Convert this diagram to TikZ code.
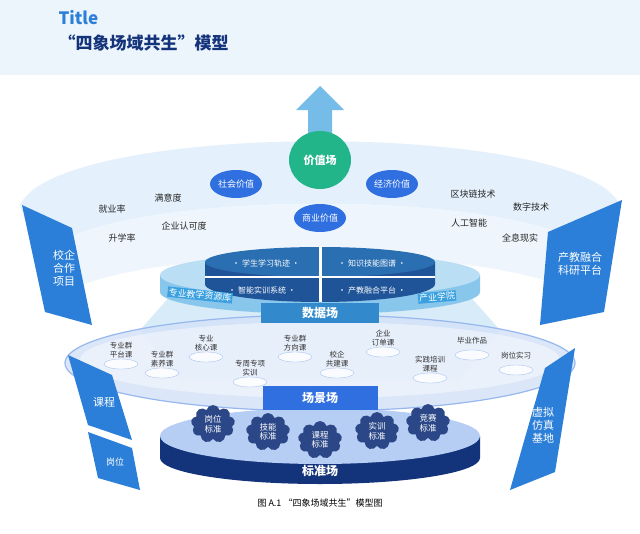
\documentclass[tikz,border=0pt]{standalone}
\usepackage{fontspec}
\setmainfont{Noto Sans CJK SC}
\usetikzlibrary{shapes.geometric,shapes.symbols}
\definecolor{tblue}{HTML}{2B7FD8}
\definecolor{dblue}{HTML}{13337A}
\definecolor{mblue}{HTML}{2F6FE0}
\definecolor{lblue}{HTML}{CFE3F7}
\definecolor{sky}{HTML}{3AA0E0}
\definecolor{vgreen}{HTML}{23B58A}
\tikzset{
  kw/.style={font=\fontsize{9}{10}\selectfont, text=black!85},
  val/.style={ellipse, fill=mblue, text=white, minimum width=52, minimum height=28, inner sep=0, font=\fontsize{9}{10}\selectfont},
  lab/.style={fill=mblue, text=white, font=\bfseries\fontsize{12}{13}\selectfont, minimum height=20, inner sep=2},
  item/.style={font=\fontsize{7.5}{8.5}\selectfont, align=center, text=black!80},
  ring/.style={draw=mblue!50, fill=white, opacity=.8, ellipse, minimum width=34, minimum height=10},
  cloudn/.style={cloud, cloud puffs=9, fill=dblue!90, text=white, minimum width=44, minimum height=38, inner sep=0, align=center, font=\fontsize{8.5}{9.5}\selectfont},
  side/.style={fill=tblue, draw=none},
  sidet/.style={text=white, align=center, font=\fontsize{11}{13}\selectfont},
  dk/.style={text=white, font=\fontsize{8}{9}\selectfont},
}
\begin{document}
\begin{tikzpicture}[x=1pt,y=-1pt]
\useasboundingbox (0,0) rectangle (640,533);
\fill[white] (0,0) rectangle (640,533);
\fill[lblue!40] (0,0) rectangle (640,75);
\node[anchor=west, text=tblue, font=\bfseries\fontsize{17}{18}\selectfont] (title) at (55,18) {Title};
\node[anchor=west, font=\bfseries\fontsize{17}{18}\selectfont, text=dblue] (sub) at (55,43) {“四象场域共生”模型};
% top band
\fill[lblue!55] (20,205) .. controls (60,120) and (580,120) .. (620,205) -- (600,260) .. controls (560,185) and (80,185) .. (40,260) -- cycle;
\fill[lblue!35] (40,260) .. controls (80,185) and (560,185) .. (600,260) -- (590,305) .. controls (540,240) and (100,240) .. (50,305) -- cycle;
% arrow
\fill[sky!70] (308,150) -- (308,110) -- (296,110) -- (320,86) -- (344,110) -- (332,110) -- (332,150) -- cycle;
% side panels top
\fill[side] (22,205) -- (72,228) -- (92,325) -- (45,312) -- cycle;
\node[sidet] (xq) at (64,268) {校企\\合作\\项目};
\fill[side] (622,200) -- (548,232) -- (540,325) -- (604,312) -- cycle;
\node[sidet] (cj) at (580,264) {产教融合\\科研平台};
% values
\node[ellipse, fill=vgreen, text=white, minimum width=62, minimum height=58, font=\bfseries\fontsize{11}{12}\selectfont] (jz) at (320,160) {价值场};
\node[val] (sh) at (236,184) {社会价值};
\node[val] (jj) at (392,184) {经济价值};
\node[val] (sy) at (320,218) {商业价值};
\node[kw] (a1) at (112,209) {就业率};
\node[kw] (a2) at (168,198) {满意度};
\node[kw] (a3) at (122,238) {升学率};
\node[kw] (a4) at (184,226) {企业认可度};
\node[kw] (b1) at (473,194) {区块链技术};
\node[kw] (b2) at (531,207) {数字技术};
\node[kw] (b3) at (469,223) {人工智能};
\node[kw] (b4) at (520,238) {全息现实};
% data field
\fill[sky!25, opacity=.8] (140,330) -- (180,285) -- (460,285) -- (500,330) -- (460,380) -- (180,380) -- cycle;
\fill[sky!60] (160,275) -- (160,292) arc[start angle=180,end angle=0,x radius=160,y radius=22] -- (480,275) -- cycle;
\fill[sky!35] (320,275) ellipse[x radius=160, y radius=22];
\fill[dblue!70!sky] (205,262) -- (205,284) arc[start angle=180,end angle=0,x radius=115,y radius=18] -- (435,262) -- cycle;
\fill[dblue!45!sky] (320,262) ellipse[x radius=115, y radius=15];
\draw[white, line width=3] (320,246) -- (320,302);
\draw[white, line width=2] (205,277) -- (435,277);
\node[dk] (d1) at (266,263) {· 学生学习轨迹 ·};
\node[dk] (d2) at (372,263) {· 知识技能图谱 ·};
\node[dk] (d3) at (262,290) {· 智能实训系统 ·};
\node[dk] (d4) at (372,290) {· 产教融合平台 ·};
\node[text=white, fill=sky, rotate=-6, font=\fontsize{9}{10}\selectfont, inner sep=1] (zy) at (200,295) {专业教学资源库};
\node[text=white, fill=sky, rotate=5, font=\fontsize{9}{10}\selectfont, inner sep=1] (cy) at (437,297) {产业学院};
% scene field
\fill[mblue!20, opacity=.85] (320,363) ellipse[x radius=255, y radius=48];
\draw[mblue!50, line width=1.2] (320,363) ellipse[x radius=255, y radius=48];
\fill[white, opacity=.45] (320,360) ellipse[x radius=240, y radius=38];
\node[lab, fill=sky!80!dblue, minimum width=118] (sjc) at (320,313) {数据场};
\foreach \n/\x/\y/\t in {s1/121/354/专业群\\平台课, s2/162/363/专业群\\素养课, s3/206/347/专业\\核心课, s4/250/372/专周专项\\实训, s5/295/347/专业群\\方向课, s6/337/363/校企\\共建课, s7/383/342/企业\\订单课, s8/430/368/实践培训\\课程, s9/472/345/毕业作品, s10/516/360/岗位实习}{
  \node[ring] (r\n) at (\x,\y+10) {};
  \node[item] (\n) at (\x,\y-4) {\t};
}
% left/right lower panels
\fill[side] (68,355) -- (112,375) -- (132,440) -- (88,425) -- cycle;
\node[sidet] (kc) at (104,402) {课程};
\fill[side] (88,432) -- (132,448) -- (140,490) -- (98,478) -- cycle;
\node[sidet, font=\fontsize{9}{10}\selectfont] (gw) at (115,462) {岗位};
\fill[side] (575,348) -- (545,368) -- (510,490) -- (555,472) -- cycle;
\node[sidet] (xn) at (543,425) {虚拟\\仿真\\基地};
% standard field
\fill[dblue] (160,436) -- (160,458) arc[start angle=180,end angle=0,x radius=160,y radius=26] -- (480,436) -- cycle;
\fill[mblue!35] (320,436) ellipse[x radius=160, y radius=28];
\node[lab, minimum width=115, minimum height=24] (cjc) at (320,398) {场景场};
\node[text=white, font=\bfseries\fontsize{12}{13}\selectfont] (bzc) at (320,471) {标准场};
\node[cloudn] (c1) at (213,424) {岗位\\标准};
\node[cloudn] (c2) at (268,432) {技能\\标准};
\node[cloudn] (c3) at (320,440) {课程\\标准};
\node[cloudn] (c4) at (377,431) {实训\\标准};
\node[cloudn] (c5) at (428,423) {竞赛\\标准};
\node[font=\fontsize{9}{10}\selectfont] (cap) at (320,503) {图 A.1 “四象场域共生”模型图};
\end{tikzpicture}
\end{document}
